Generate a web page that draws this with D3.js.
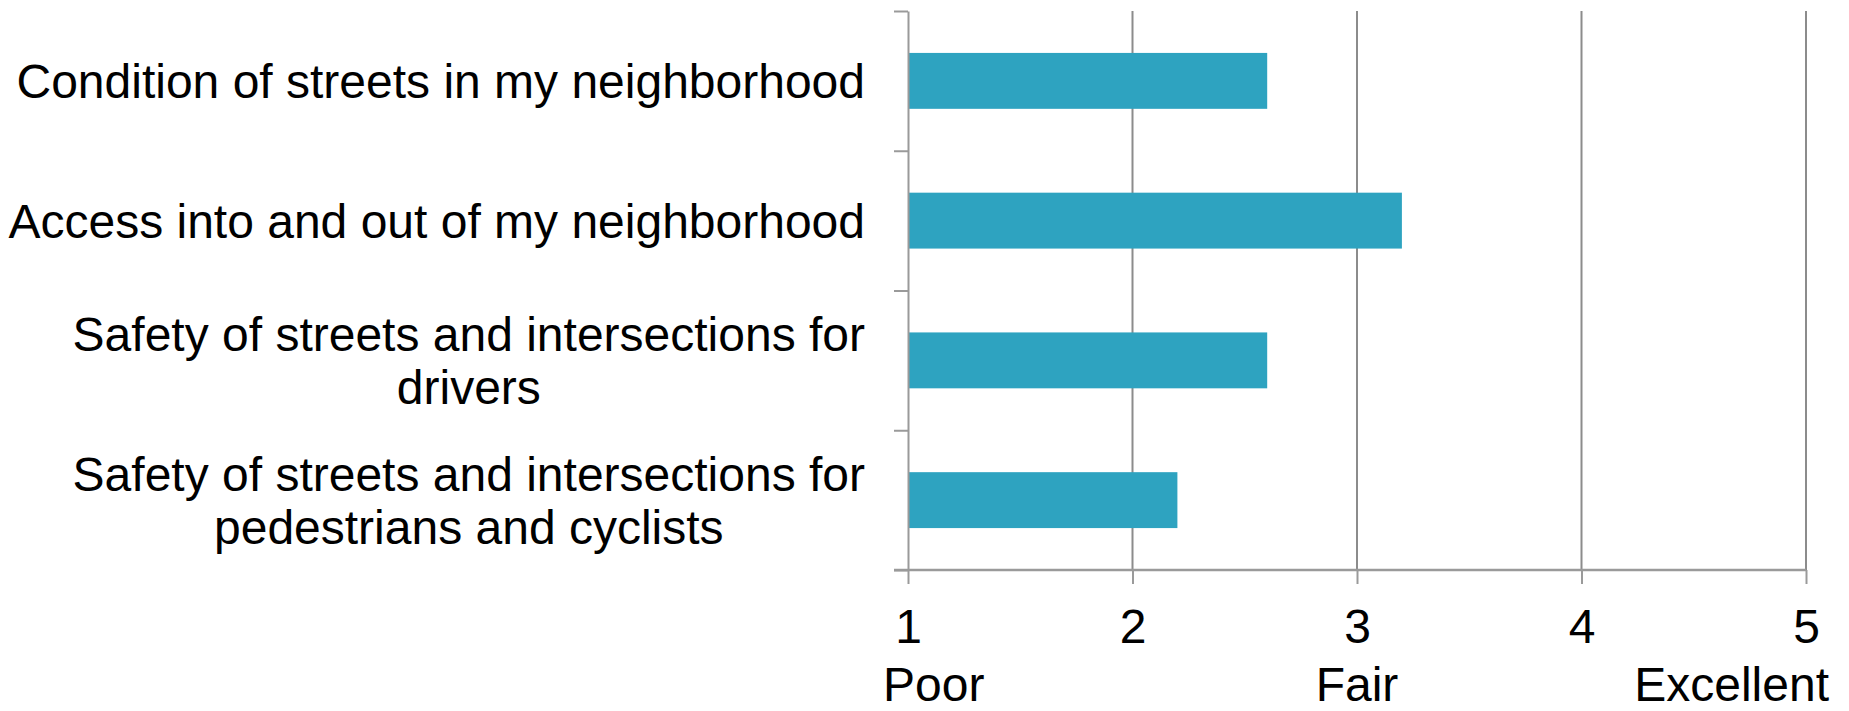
<!DOCTYPE html>
<html><head><meta charset="utf-8">
<script src="https://cdn.jsdelivr.net/npm/d3@7"></script>
<style>
body{margin:0;background:#fff;}
text{font-family:"Liberation Sans",Arial,sans-serif;fill:#000;}
</style>
</head><body>
<svg id="c" width="1849" height="711"></svg>
<script>
// ---- data ----
const categories = [
  "Condition of streets in my neighborhood",
  "Access into and out of my neighborhood",
  "Safety of streets and intersections for drivers",
  "Safety of streets and intersections for pedestrians and cyclists"
];
const categoryLines = [
  ["Condition of streets in my neighborhood"],
  ["Access into and out of my neighborhood"],
  ["Safety of streets and intersections for", "drivers"],
  ["Safety of streets and intersections for", "pedestrians and cyclists"]
];
const values = [2.6, 3.2, 2.6, 2.2];
const tickValues = [1, 2, 3, 4, 5];
const tickWords = ["Poor", "", "Fair", "", "Excellent"];

// ---- layout ----
const svg = d3.select("#c");
const L = 908, R = 1806, T = 11, B = 570;
const FS = 48;
const barColor = "#2ea3c0";
const gridColor = "#8c8c8c";
const axisColor = "#9a9a9a";

const x = d3.scaleLinear().domain([1, 5]).range([L, R]);
const y = d3.scaleBand().domain(categories).range([T, B]).paddingInner(0.6).paddingOuter(0.3);
const yIdx = d3.scaleLinear().domain([0, categories.length]).range([T, B]);

// gridlines
svg.append("g").selectAll("line").data(tickValues.slice(1)).join("line")
  .attr("x1", d => x(d)).attr("x2", d => x(d)).attr("y1", T).attr("y2", B)
  .attr("stroke", gridColor).attr("stroke-width", 2);

// bars
svg.append("g").selectAll("rect").data(values).join("rect")
  .attr("x", x(1)).attr("y", (d, i) => y(categories[i]))
  .attr("width", d => x(d) - x(1)).attr("height", y.bandwidth())
  .attr("fill", barColor);

// left axis (category boundaries)
const gl = svg.append("g").attr("transform", `translate(${L},0)`)
  .call(d3.axisLeft(yIdx).tickValues(d3.range(categories.length + 1)).tickFormat("").tickSize(14).tickSizeOuter(0));
gl.selectAll("path,line").attr("stroke", axisColor).attr("stroke-width", 2);

// bottom axis
const gb = svg.append("g").attr("transform", `translate(0,${B})`)
  .call(d3.axisBottom(x).tickValues(tickValues).tickFormat(d3.format("d")).tickSize(14).tickSizeOuter(0).tickPadding(25));
gb.select(".domain").remove();
gb.selectAll("line").attr("stroke", axisColor).attr("stroke-width", 2);
gb.selectAll("text").attr("font-size", FS).attr("font-family", '"Liberation Sans",Arial,sans-serif').attr("fill", "#000");
svg.append("line").attr("x1", L - 14).attr("x2", R).attr("y1", B).attr("y2", B)
  .attr("stroke", axisColor).attr("stroke-width", 2.5);

// word labels under numbers
const words = svg.append("g").selectAll("text").data(tickValues).join("text")
  .attr("font-size", FS).attr("y", 701).text((d, i) => tickWords[i]);
words.each(function(d) {
  const w = this.getComputedTextLength();
  let lx = x(d) - w / 2;
  lx = Math.max(lx, 883);
  lx = Math.min(lx, 1829 - w);
  d3.select(this).attr("x", lx);
});

// category labels
const lineH = 53;
const labels = svg.append("g").selectAll("text").data(categories).join("text")
  .attr("font-size", FS).attr("text-anchor", "middle");
labels.each(function(c, i) {
  const t = d3.select(this);
  const lines = categoryLines[i];
  const cy = y(c) + y.bandwidth() / 2;
  const base0 = cy + 0.358 * FS - (lines.length - 1) * lineH / 2;
  lines.forEach((ln, k) => {
    t.append("tspan").attr("x", 0).attr("y", base0 + k * lineH).text(ln);
  });
  let maxW = 0;
  t.selectAll("tspan").each(function() { maxW = Math.max(maxW, this.getComputedTextLength()); });
  const cx = 865 - maxW / 2;
  t.selectAll("tspan").attr("x", cx);
});
</script>
</body></html>
